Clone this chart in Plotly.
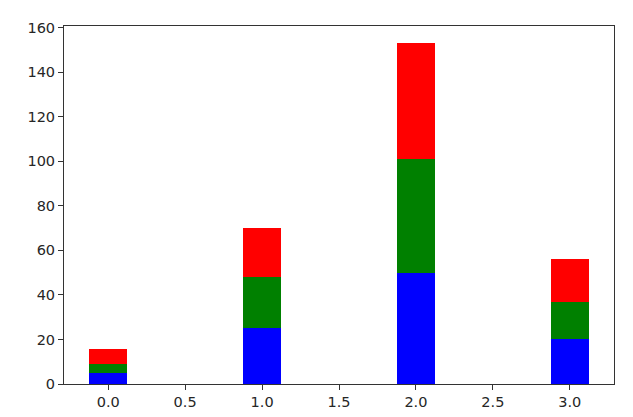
import plotly.graph_objects as go

x_pos = [0, 1, 2, 3]
blue_vals = [5, 25, 50, 20]
green_vals = [4, 23, 51, 17]
red_vals = [6.5, 22, 52, 19]
x_ticks = [0.0, 0.5, 1.0, 1.5, 2.0, 2.5, 3.0]
x_tick_labels = ["0.0", "0.5", "1.0", "1.5", "2.0", "2.5", "3.0"]
y_ticks = [0, 20, 40, 60, 80, 100, 120, 140, 160]

fig = go.Figure()
for vals, col in [(blue_vals, "blue"), (green_vals, "green"), (red_vals, "red")]:
    fig.add_trace(go.Bar(x=x_pos, y=vals, width=0.25, marker=dict(color=col, line=dict(width=0)),
                         showlegend=False))

axis_common = dict(showline=True, linecolor="#333333", linewidth=1, mirror=True,
                   ticks="outside", ticklen=5, tickcolor="#333333", showgrid=False, zeroline=False,
                   tickfont=dict(family="DejaVu Sans", size=14.5, color="#262626"))
fig.update_layout(
    barmode="stack",
    width=633, height=417,
    margin=dict(l=56, r=27, t=16, b=41),
    paper_bgcolor="white", plot_bgcolor="white",
    xaxis=dict(range=[-0.2875, 3.2875], tickvals=x_ticks, ticktext=x_tick_labels, **axis_common),
    yaxis=dict(range=[0, 160.65], tickvals=y_ticks, **axis_common),
)
fig.write_html("out.html")
